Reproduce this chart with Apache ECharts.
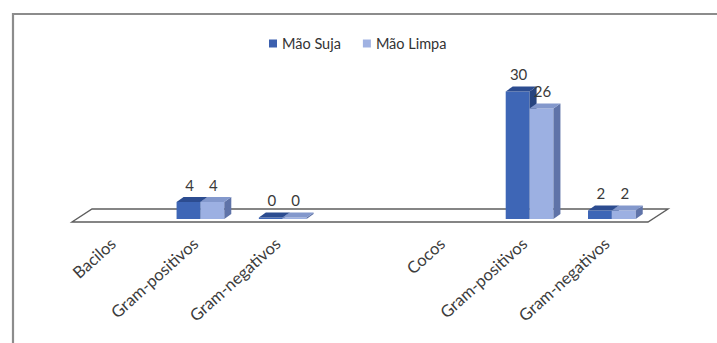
<!DOCTYPE html>
<html>
<head>
<meta charset="utf-8">
<style>
  html, body { margin: 0; padding: 0; background: #ffffff; }
  #chart { width: 717px; height: 343px; }
</style>
<script src="https://cdn.jsdelivr.net/npm/echarts@6/dist/echarts.min.js"></script>
</head>
<body>
<div id="chart"></div>
<script>
// Categories along the floor (an empty slot separates the two groups)
const categories = ["Bacilos", "Gram-positivos", "Gram-negativos", "", "Cocos", "Gram-positivos", "Gram-negativos"];
// Counts per category
const maoSuja  = [null, 4, 0, null, null, 30, 2];
const maoLimpa = [null, 4, 0, null, null, 26, 2];
const seriesNames = ["Mão Suja", "Mão Limpa"];

// Face colours: front, top, side
const palette = [
  { front: "#3e66b6", top: "#2c4c90", side: "#27447f", legend: "#3b5fae" },
  { front: "#9cb0e2", top: "#8398cc", side: "#5f73a8", legend: "#a0b2e2" }
];

// Pseudo-3D geometry (pixels)
const DEPTH_X = 7, DEPTH_Y = -5;     // bar depth
const FLOOR_X = 20, FLOOR_Y = -13;   // floor depth
const BAR_SHIFT_X = 5, BAR_SHIFT_Y = -3;
const BAR_RATIO = 0.29;              // share of a category slot per bar
const FONT = "Lato, 'Open Sans', sans-serif";

function toPairs(arr) {
  const out = [];
  arr.forEach(function (v, i) { if (v !== null) out.push([i, v]); });
  return out;
}

function barRenderer(sIdx) {
  const col = palette[sIdx];
  return function (params, api) {
    const cat = api.value(0);
    const val = api.value(1);
    const slot = api.size([1, 0])[0];
    const w = slot * BAR_RATIO;
    const base = api.coord([cat, 0]);
    const top = api.coord([cat, val]);
    const x0 = base[0] - w + sIdx * w + BAR_SHIFT_X;
    const x1 = x0 + w;
    const yb = base[1] + BAR_SHIFT_Y;
    let yt = top[1] + BAR_SHIFT_Y;
    if (yb - yt < 1.5) yt = yb - 1.5;
    const children = [
      { type: "rect", shape: { x: x0, y: yt, width: w, height: yb - yt },
        style: { fill: col.front } },
      { type: "polygon", shape: { points: [[x1, yt], [x1 + DEPTH_X, yt + DEPTH_Y], [x1 + DEPTH_X, yb + DEPTH_Y], [x1, yb]] },
        style: { fill: col.side } },
      { type: "polygon", shape: { points: [[x0, yt], [x0 + DEPTH_X, yt + DEPTH_Y], [x1 + DEPTH_X, yt + DEPTH_Y], [x1, yt]] },
        style: { fill: col.top } },
      { type: "text",
        style: { x: x0 + w / 2 + 1, y: yt + DEPTH_Y - 5, text: String(val),
                 fill: "#3a3a3a", font: "15px " + FONT,
                 align: "center", verticalAlign: "bottom" } }
    ];
    return { type: "group", children: children };
  };
}

// Floor plane drawn from the grid's coordinate system
function floorRenderer(params, api) {
  const cs = params.coordSys;
  const y0 = api.coord([0, 0])[1];
  const xl = cs.x, xr = cs.x + cs.width;
  return {
    type: "polygon",
    shape: { points: [[xl, y0], [xr, y0], [xr + FLOOR_X, y0 + FLOOR_Y], [xl + FLOOR_X, y0 + FLOOR_Y]] },
    style: { fill: "#ffffff", stroke: "#5e5e5e", lineWidth: 1.4 },
    silent: true
  };
}

const chart = echarts.init(document.getElementById("chart"), null, { renderer: "svg" });

chart.setOption({
  backgroundColor: "#ffffff",
  animation: false,
  textStyle: { fontFamily: FONT },
  graphic: [{
    type: "rect", silent: true, z: -10,
    shape: { x: 13, y: 14, width: 760, height: 400 },
    style: { fill: "none", stroke: "#8c8c8c", lineWidth: 2.2 }
  }],
  legend: {
    data: seriesNames,
    left: 264, top: 31,
    icon: "rect", itemWidth: 8, itemHeight: 8, itemGap: 22,
    textStyle: { fontSize: 14.5, color: "#333333", fontFamily: FONT }
  },
  grid: { left: 72, right: 69, top: 94.5, bottom: 121, containLabel: false },
  xAxis: {
    type: "category",
    data: categories,
    boundaryGap: true,
    axisLine: { show: false },
    axisTick: { show: false },
    splitLine: { show: false },
    axisLabel: { interval: 0, rotate: 42, margin: 19, fontSize: 16.5, color: "#3c3c3c",
                 fontFamily: FONT }
  },
  yAxis: { type: "value", min: 0, max: 30, show: false, splitLine: { show: false } },
  series: [
    { name: "floor", type: "custom", renderItem: floorRenderer, data: [[0, 0]], z: 1, silent: true },
    { name: seriesNames[0], type: "custom", renderItem: barRenderer(0), data: toPairs(maoSuja),
      encode: { x: 0, y: 1 }, itemStyle: { color: palette[0].legend }, z: 2 },
    { name: seriesNames[1], type: "custom", renderItem: barRenderer(1), data: toPairs(maoLimpa),
      encode: { x: 0, y: 1 }, itemStyle: { color: palette[1].legend }, z: 3 }
  ]
});
</script>
</body>
</html>
